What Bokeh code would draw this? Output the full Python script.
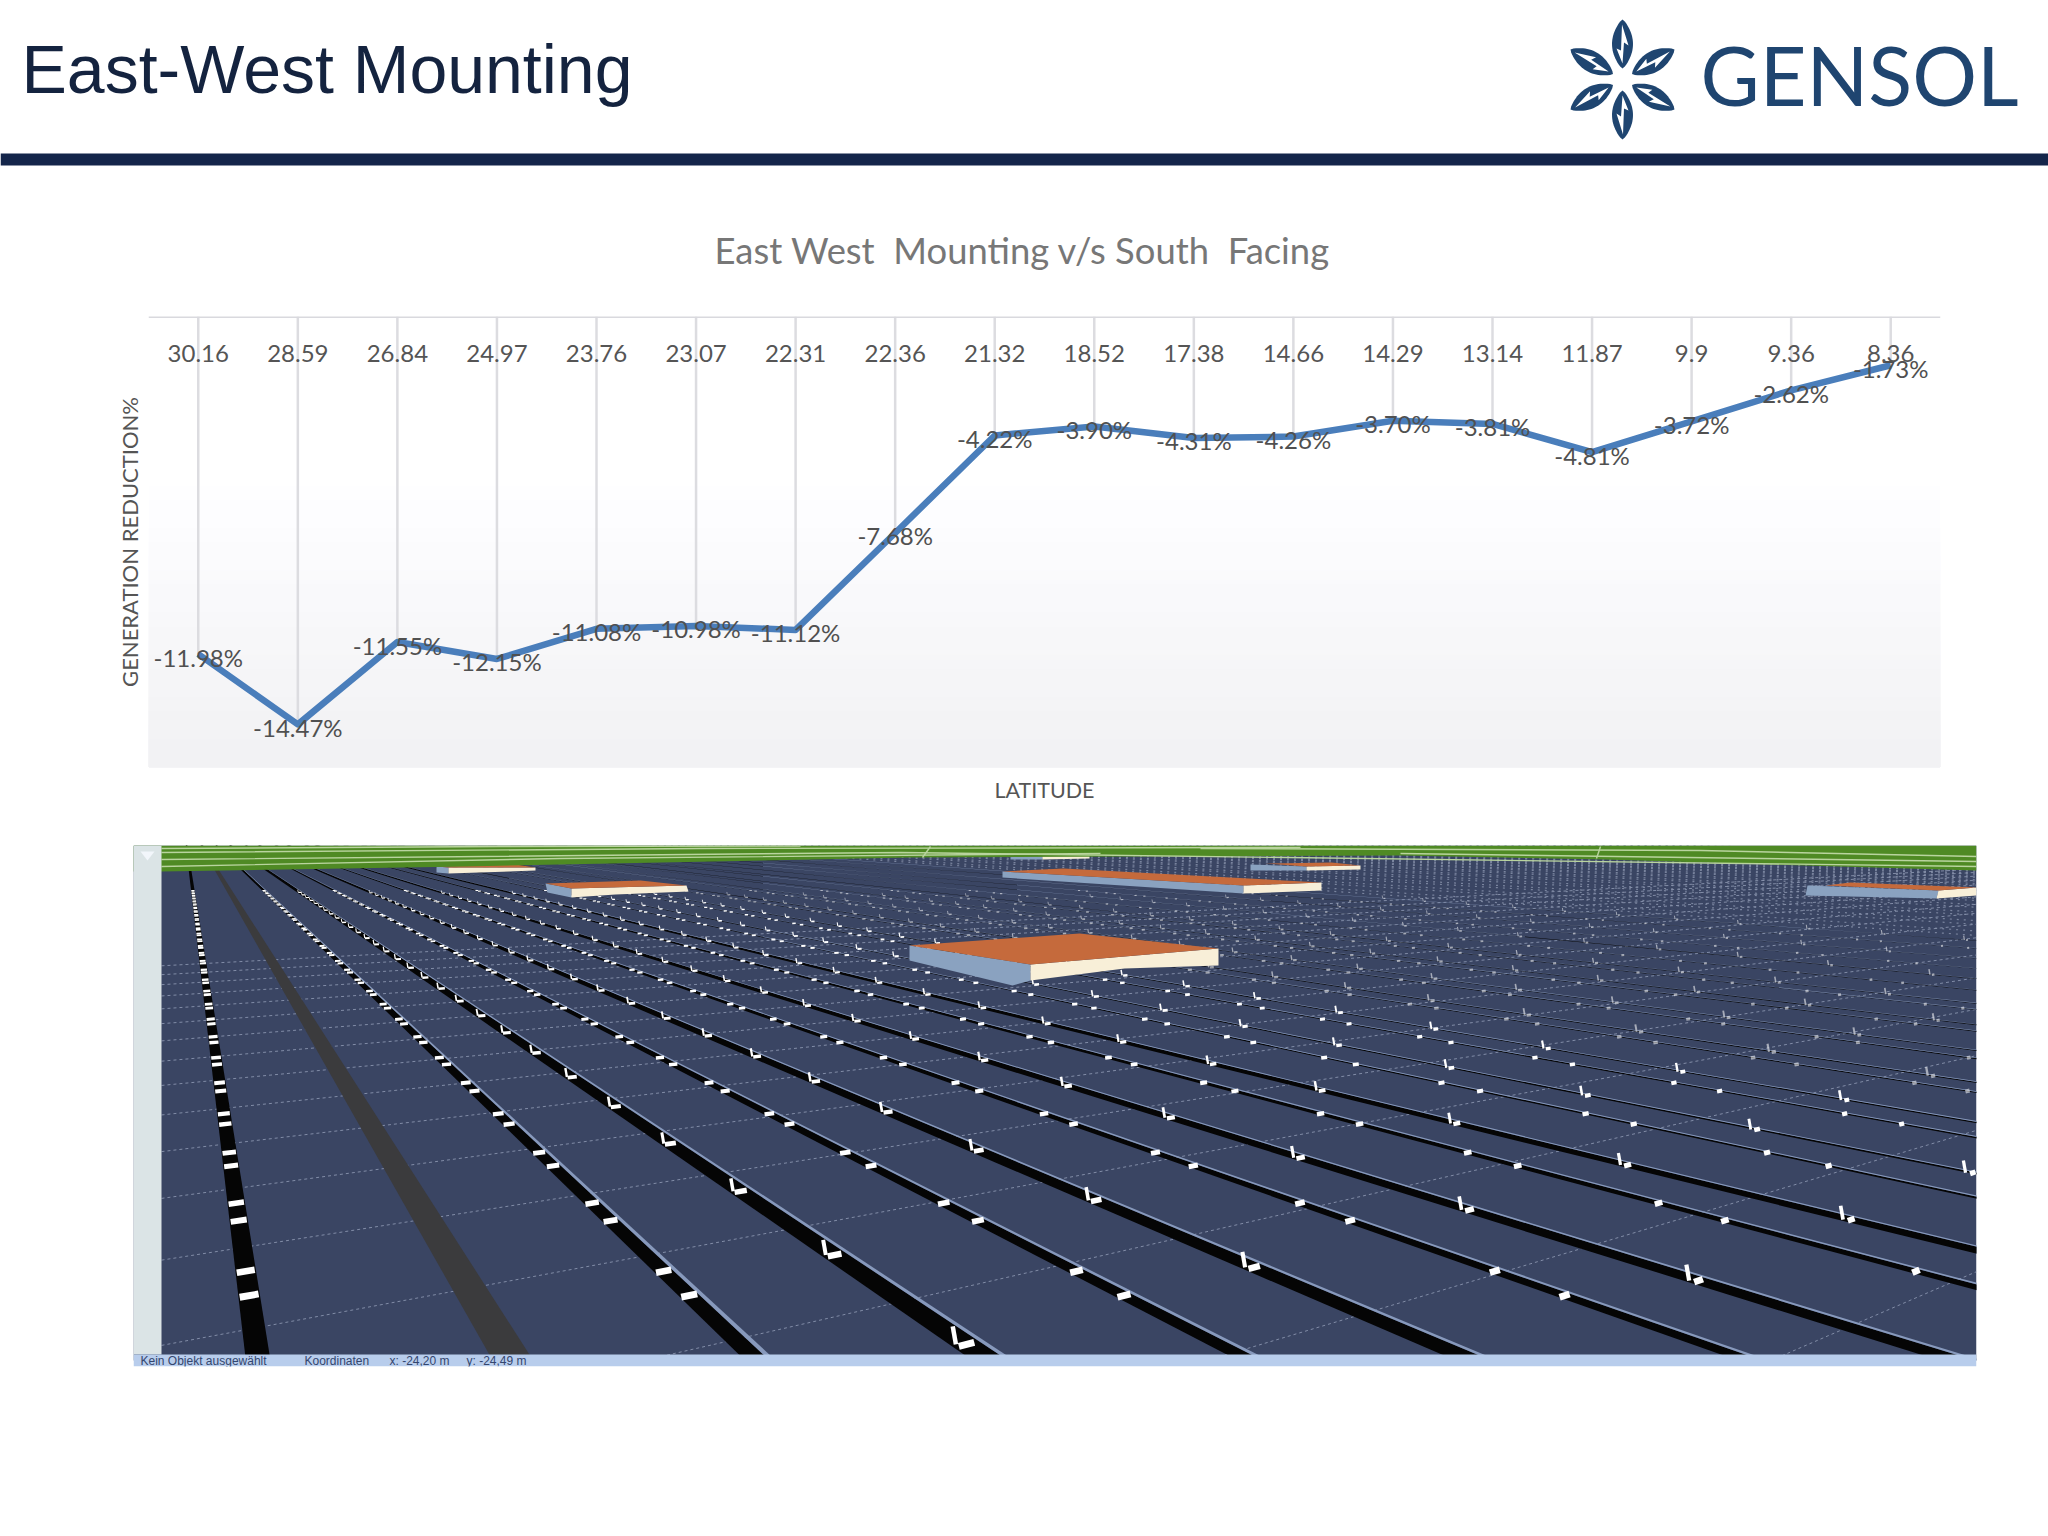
import numpy as np
from bokeh.core.properties import value
from bokeh.embed import file_html
from bokeh.models import CategoricalAxis, FactorRange, LinearAxis, Range1d, Title
from bokeh.plotting import figure
from bokeh.resources import INLINE

# chart data
latitude = ["30.16", "28.59", "26.84", "24.97", "23.76", "23.07", "22.31", "22.36", "21.32",
            "18.52", "17.38", "14.66", "14.29", "13.14", "11.87", "9.9", "9.36", "8.36"]
reduction = [-11.98, -14.47, -11.55, -12.15, -11.08, -10.98, -11.12, -7.68, -4.22,
             -3.90, -4.31, -4.26, -3.70, -3.81, -4.81, -3.72, -2.62, -1.73]
value_labels = ["%.2f%%" % v for v in reduction]

NAVY = "#14254a"
LOGO = "#1f4570"
PANEL = "#3a4563"
ROOF = "#c56a3c"
SIDE = "#8aa2c0"
CREAM = "#f8efd8"

# ---------- header ----------
head = figure(width=2048, height=166, x_range=Range1d(0, 2048), y_range=Range1d(166, 0),
              output_backend="svg", toolbar_location=None, x_axis_type=None, y_axis_type=None, min_border=0)
head.grid.visible = False
head.outline_line_color = None
head.quad(left=[0], right=[2048], top=[153], bottom=[165], fill_color=NAVY, line_color=None)
head.text(x=[21], y=[68], text=["East-West Mounting"], text_font=value("Liberation Sans"), text_font_size="68px",
          text_color="#14233f", text_baseline="alphabetic")
head.text(x=[1700], y=[74], text=["GENSOL"], text_font=value("Lato"), text_font_size="81px",
          text_color=LOGO, text_baseline="alphabetic")

r = np.linspace(11, 60, 25)
w = 10.5 * np.sin(np.pi * (r - 11) / 49) ** 0.75
petal_u = np.concatenate([r, r[::-1]])
petal_v = np.concatenate([w, -w[::-1]])
bolt_u = np.array([55, 34, 37, 16, 31, 29])
bolt_v = np.array([0.5, -6, -1.5, 0, 6, 1.5])
for ang in [90, 30, -30, -90, -150, 150]:
    a = np.radians(ang)
    for uu, vv, col in [(petal_u, petal_v, LOGO), (bolt_u, bolt_v, "white")]:
        xs = 1622 + uu * np.cos(a) - vv * np.sin(a)
        ys = 79 - uu * np.sin(a) - vv * np.cos(a)
        head.patch(xs, ys, fill_color=col, line_color=None)

# ---------- chart ----------
chart = figure(width=2048, height=664, x_range=FactorRange(factors=latitude, range_padding=0),
               y_range=Range1d(-16, 0), output_backend="svg", toolbar_location=None,
               x_axis_type=None, y_axis_type=None,
               min_border_left=148, min_border_right=108, min_border_top=150, min_border_bottom=63)
chart.grid.visible = False
chart.outline_line_color = None

# soft grey fade at the bottom of the plot area
tops = np.linspace(-6, -15.5, 20)
for i, t in enumerate(tops):
    g = 255 - (i + 1) * 0.65
    chart.quad(left=[0], right=[18], top=[t], bottom=[-16],
               fill_color="#%02x%02x%02x" % (int(g), int(g), int(min(255, g + 2))), line_color=None)

chart.segment(x0=latitude, y0=[0] * 18, x1=latitude, y1=reduction, line_color="#dcdce0", line_width=2.5)
chart.line(latitude, reduction, line_color="#4a7ebb", line_width=6.5, line_join="round")
chart.text(x=latitude, y=reduction, text=value_labels, text_font=value("Lato"), text_font_size="24px",
           text_color="#505050", text_align="center", text_baseline="middle", y_offset=3)

xa = CategoricalAxis(fixed_location=0)
xa.axis_line_color = "#d9d9de"
xa.axis_line_width = 3
xa.major_tick_line_color = None
xa.minor_tick_line_color = None
xa.major_label_text_font = "Lato"
xa.major_label_text_font_size = "24px"
xa.major_label_text_color = "#555555"
xa.major_label_standoff = 22
chart.add_layout(xa, "below")

xl = LinearAxis(ticker=[], axis_label="LATITUDE")
xl.axis_line_color = None
xl.major_tick_line_color = None
xl.minor_tick_line_color = None
xl.axis_label_standoff = 9
xl.axis_label_text_font = "Lato"
xl.axis_label_text_font_style = "normal"
xl.axis_label_text_font_size = "21.5px"
xl.axis_label_text_color = "#555555"
chart.add_layout(xl, "below")

yl = LinearAxis(ticker=[], axis_label="GENERATION REDUCTION%")
yl.axis_line_color = None
yl.major_tick_line_color = None
yl.minor_tick_line_color = None
yl.axis_label_standoff = 6
yl.axis_label_text_font = "Lato"
yl.axis_label_text_font_style = "normal"
yl.axis_label_text_font_size = "22px"
yl.axis_label_text_color = "#555555"
chart.add_layout(yl, "left")

chart.add_layout(Title(text="East West \u00a0Mounting v/s South \u00a0Facing", align="left", offset=566,
                       text_font="Lato", text_font_style="normal", text_font_size="36.4px",
                       text_color="#777777", standoff=89), "above")

# ---------- screenshot of the array layout ----------
photo = figure(width=2048, height=706, x_range=Range1d(133, 1976), y_range=Range1d(1366, 845),
               output_backend="svg", toolbar_location=None, x_axis_type=None, y_axis_type=None,
               min_border_left=133, min_border_right=72, min_border_top=15, min_border_bottom=170)
photo.grid.visible = False
photo.outline_line_color = None
photo.quad(left=[133], right=[1976], top=[845], bottom=[1360], fill_color=PANEL, line_color=None)

VX, VY = 181.5, 812
BOTTOM = 1360     # everything on the field stops under the status bar
TILT = .00035     # how far a cross line moves in depth per unit of row slope
near_rows = [.139, .604, 1.05, 1.475, 1.95, 2.357, 2.862, 3.24, 3.78, 4.10, 4.66, 4.97, 5.52, 5.79,
             6.41, 6.65, 7.29, 7.54, 8.2, 8.45, 9.1, 9.4, 10.1, 10.8, 11.5, 12.3, 13.2, 14.0]

# cross joints between tables, straight lines towards a second vanishing point
joint_xs, joint_ys = [], []
for k in range(-1, 16):
    u0 = .00117 + .00036 * k
    y0, y1 = VY + (1 - TILT * (161 - VX)) / u0, VY + (1 - TILT * (1976 - VX)) / u0
    x0 = 161 if y0 <= BOTTOM else 161 + (BOTTOM - y0) / (y1 - y0) * (1976 - 161)
    joint_xs.append([x0, 1976])
    joint_ys.append([min(y0, BOTTOM), y1])
photo.multi_line(joint_xs, joint_ys, line_color="#99a4bd", line_width=1, line_dash="3 3", line_alpha=.75)

# far rows fade into a dotted texture
far_s = 14.6
far_xs, far_ys = [], []
while far_s < 46:
    far_xs.append([VX, VX + far_s * 400])
    far_ys.append([VY, VY + 400])
    far_s += .55 if len(far_xs) % 2 else .9
photo.multi_line(far_xs, far_ys, line_color="#8a94ad", line_width=1.2, line_dash="2 5", line_alpha=.8)

D = BOTTOM - VY
for i, s in enumerate(near_rows):
    if i == 1:
        dark, edge = .074, "#3b3b3d"
    elif i % 2 == 1:
        dark, edge = .065, "#050505"
    else:
        dark, edge = .045, "#050505"
    if s > 4.5:
        dark = .024
    photo.patch([VX, VX + (s - dark / 2) * D, VX + (s + dark / 2) * D],
                [VY, VY + D, VY + D], fill_color=edge, line_color=None)
    if i > 1:
        rim = .01 + .001 * s
        photo.patch([VX, VX + (s + dark / 2) * D, VX + (s + dark / 2 + rim) * D],
                    [VY, VY + D, VY + D], fill_color="#8799bc", line_color=None)
    if i == 1:
        continue
    # white bar and V marks repeating along the row
    mx, my, mw = [], [], []
    phase = .00188 - (s - 1.475) * .00007 if i % 2 == 1 else .00207
    hw = .02
    for k in range(30):
        u = phase + .00038 * (k - 1)
        if u <= 1 / D:
            continue
        depths = [u] if i % 2 == 1 else [u, u + .00011]
        for q in depths:
            d0, d1 = 1 / (q - TILT * hw), 1 / (q + TILT * hw)
            mx.append([VX + (s - hw) * d0, VX + (s + hw) * d1])
            my.append([VY + d0, VY + d1])
            mw.append(min((1 / q) / 70, 7))
        if i % 2 == 1:
            # short upright stroke of the V
            d = 1 / u
            x0 = VX + (s - hw) * d
            mx.append([x0, x0 - .006 * d])
            my.append([VY + d, VY + d * .966])
            mw.append(min(d / 110, 4.5))
    photo.multi_line(mx, my, line_color="white", line_width=mw, line_alpha=1 if s < 6 else .55)

# buildings: (roof, side wall, front wall)
buildings = [
    ([(909, 945), (1079, 933), (1218, 948), (1030, 964)],
     [(909, 945), (1030, 964), (1030, 980), (1012, 985), (909, 960)],
     [(1030, 964), (1218, 948), (1218, 965), (1124, 968), (1030, 980)]),
    ([(1002, 871), (1063, 868), (1321, 882), (1243, 885)],
     [(1002, 871), (1243, 885), (1243, 893), (1002, 877)],
     [(1243, 885), (1321, 882), (1321, 890), (1243, 893)]),
    ([(545, 883), (640, 880), (686, 885), (571, 888)],
     [(545, 883), (571, 888), (571, 897), (547, 892)],
     [(571, 888), (686, 885), (688, 891), (615, 894), (571, 897)]),
    ([(436, 866), (515, 864), (535, 867), (448, 867)],
     [(436, 866), (448, 867), (448, 873), (436, 872)],
     [(448, 867), (535, 867), (535, 870), (448, 873)]),
    ([(1015, 855), (1038, 853), (1089, 855), (1042, 855)],
     [(1010, 855), (1042, 855), (1042, 859), (1010, 859)],
     [(1042, 855), (1089, 855), (1089, 858), (1042, 859)]),
    ([(1265, 863), (1331, 862), (1360, 865), (1306, 866)],
     [(1250, 864), (1306, 866), (1306, 870), (1250, 870)],
     [(1306, 866), (1360, 865), (1360, 869), (1306, 870)]),
    ([(1825, 885), (1850, 882), (1976, 887), (1938, 890)],
     [(1807, 885), (1938, 890), (1936, 898), (1805, 895)],
     [(1938, 890), (1976, 887), (1976, 895), (1936, 898)]),
]
for roof, wall, front in buildings:
    for pts, col in [(wall, SIDE), (front, CREAM), (roof, ROOF)]:
        photo.patch([a for a, _ in pts], [b for _, b in pts], fill_color=col, line_color=None)

# grass strip
grass_x = [133, 161, 464, 910, 1400, 1604, 1976, 1976, 133]
grass_y = [871, 871, 866, 857, 855, 859, 870, 845, 845]
photo.patch(grass_x, grass_y, fill_color="#4f8a24", line_color=None)
photo.multi_line([[161, 700, 1300], [161, 900, 1976], [161, 560, 1100], [1200, 1700, 1976], [161, 500, 800],
                  [1400, 1976], [930, 922], [1600, 1596]],
                 [[852, 848, 847], [859, 852, 866], [866, 858, 853], [848, 850, 856], [848, 846, 845.5],
                  [853, 861], [846, 857], [846, 858]],
                 line_color="#b9d49e", line_width=1.4)

# left tool strip and status bar
photo.quad(left=[133], right=[161], top=[845], bottom=[1354], fill_color="#dbe4e6", line_color=None)
photo.patch([140, 154, 147], [851, 851, 860], fill_color="#f2f6fb", line_color=None)
photo.quad(left=[133], right=[1976], top=[1354], bottom=[1366], fill_color="#b8cdec", line_color=None)
photo.text(x=[140, 304, 389, 466], y=[1360, 1360, 1360, 1360],
           text=["Kein Objekt ausgewählt", "Koordinaten", "x: -24,20 m", "y: -24,49 m"],
           text_font=value("Liberation Sans"), text_font_size="12px", text_color="#33466e", text_baseline="middle")

# separate roots, so the three frames are not aligned with each other
open("out.html", "w").write(file_html([head, chart, photo], INLINE))
